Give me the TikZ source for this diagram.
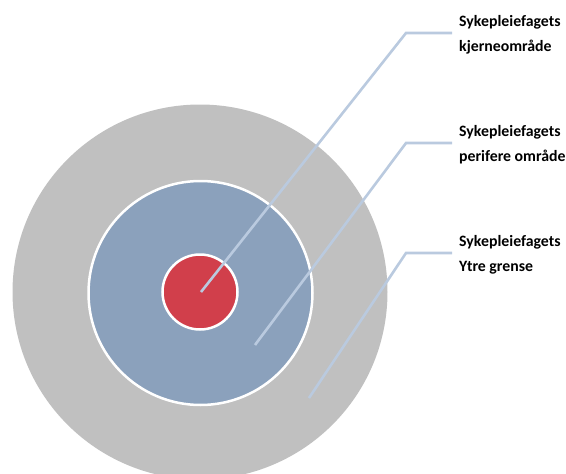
\documentclass[tikz,border=0pt]{standalone}
\usepackage{fontspec}
\setmainfont{Carlito}
\definecolor{outerg}{HTML}{C0C0C0}
\definecolor{midb}{HTML}{8BA1BC}
\definecolor{corer}{HTML}{D13F4B}
\definecolor{leader}{HTML}{BACADF}
\begin{document}
\begin{tikzpicture}[x=1pt,y=-1pt,
  ring/.style={circle,inner sep=0pt,minimum size=#1},
  leadline/.style={draw=leader,line width=2.6pt},
  lbl/.style={anchor=base west,inner sep=0pt,font=\bfseries\fontsize{15.8}{25}\selectfont,align=left}]
\useasboundingbox (0,0) rectangle (566,474);
\begin{scope}
\clip (0,0) rectangle (566,474);
\node[ring=375pt,fill=outerg] (outer) at (200,292) {};
\node[ring=224pt,fill=midb,draw=white,line width=2.5pt] (mid) at (200.5,293) {};
\node[ring=75pt,fill=corer,draw=white,line width=2.5pt] (core) at (200,292) {};
\end{scope}
\coordinate (p1) at (201,292);
\coordinate (p2) at (255,345);
\coordinate (p3) at (309,398);
\coordinate (k1) at (406,33);
\coordinate (k2) at (406,143);
\coordinate (k3) at (406,253);
\coordinate (e1) at (452,33);
\coordinate (e2) at (452,143);
\coordinate (e3) at (452,253);
\draw[leadline] (p1) -- (k1) -- (e1);
\draw[leadline] (p2) -- (k2) -- (e2);
\draw[leadline] (p3) -- (k3) -- (e3);
\node[lbl] (t1) at (459,51) {Sykepleiefagets\\kjerneområde};
\node[lbl] (t2) at (459,161) {Sykepleiefagets\\perifere område};
\node[lbl] (t3) at (459,271) {Sykepleiefagets\\Ytre grense};
\end{tikzpicture}
\end{document}
